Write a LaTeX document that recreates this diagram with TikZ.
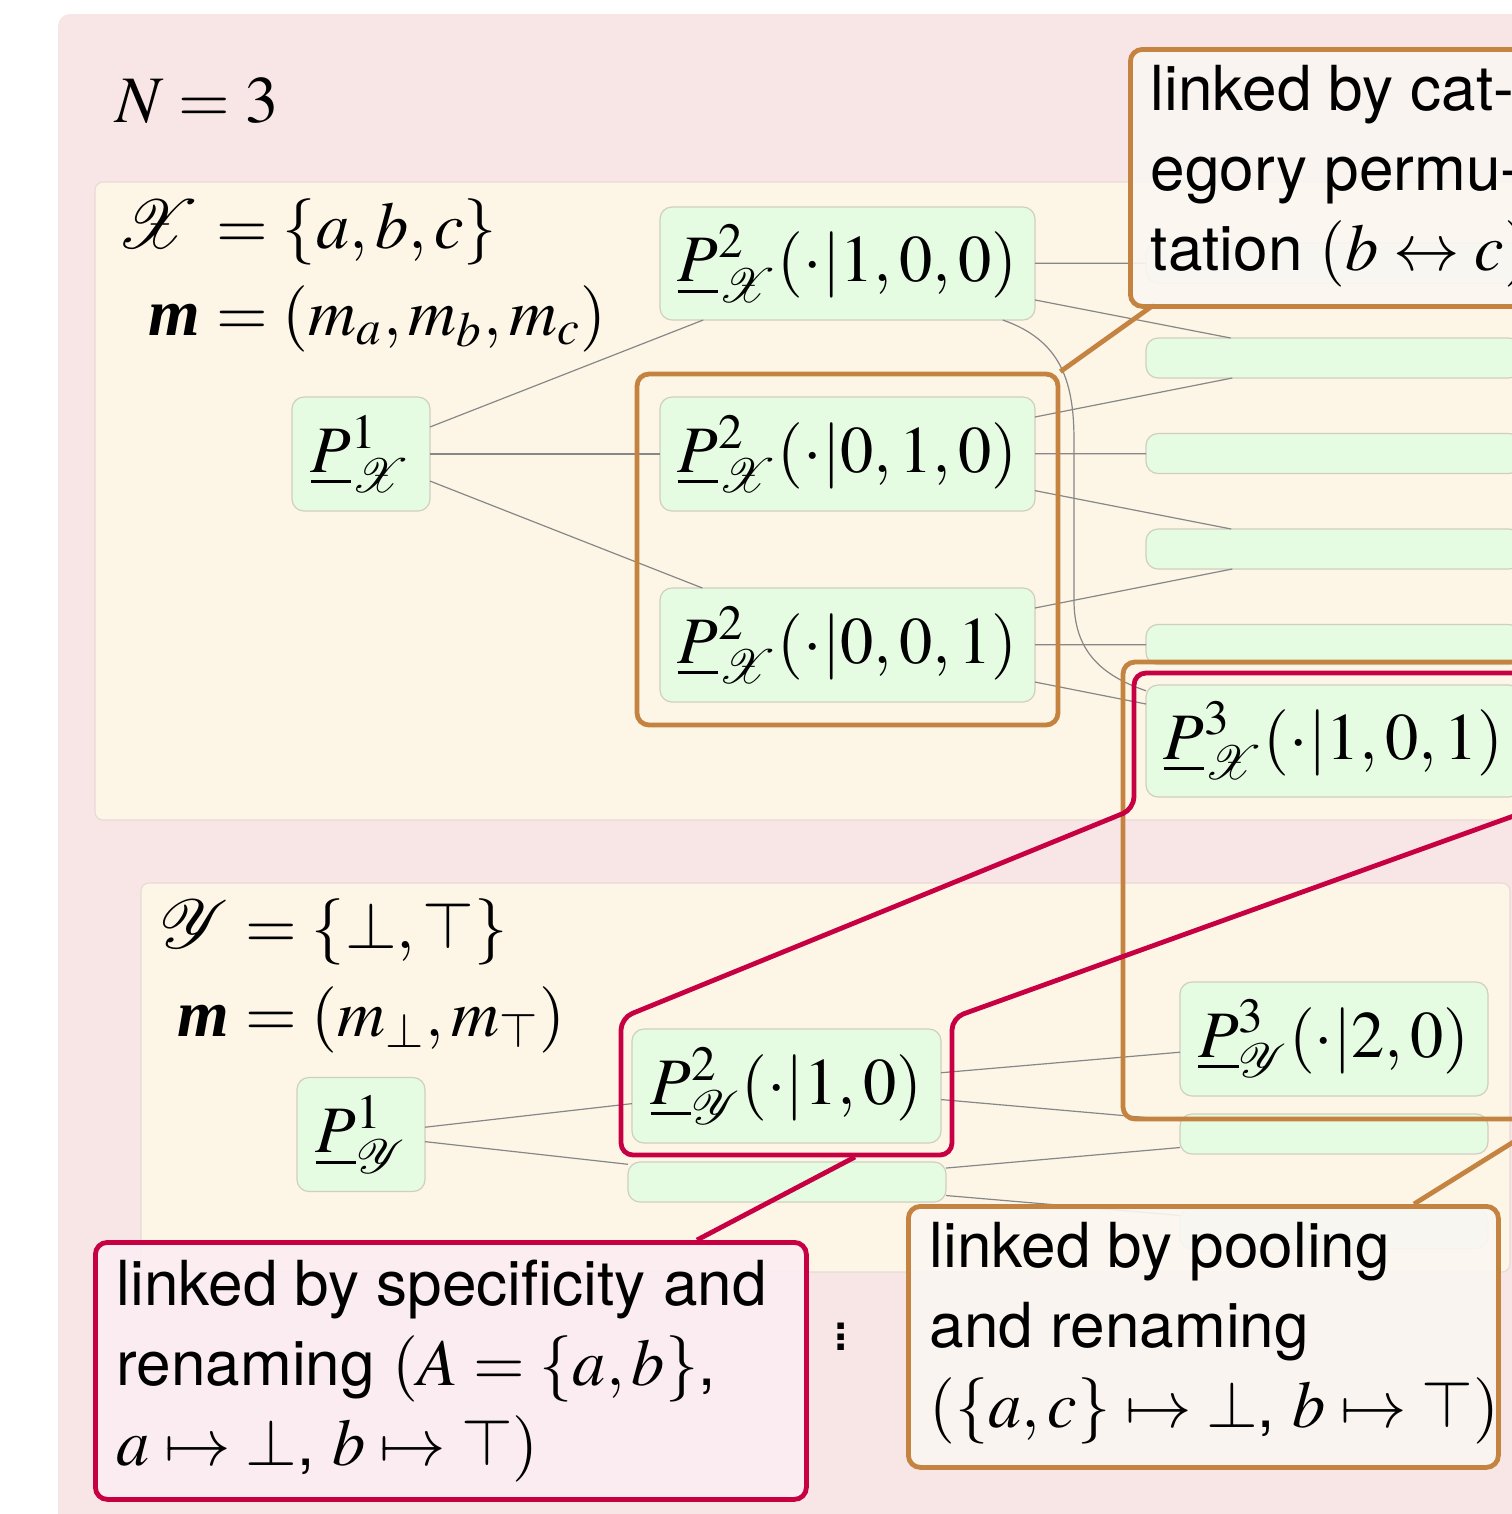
\documentclass[tikz,border=0pt]{standalone}
\usepackage{mathptmx}
\usepackage{mathrsfs}
\usepackage[no-math]{fontspec}
\setsansfont{TeX Gyre Heros}[Scale=0.935]
\newfontfamily\tmsfam{Liberation Serif}
\usetikzlibrary{fit,calc}
\definecolor{bgpink}{RGB}{248,230,230}
\definecolor{boxbeige}{RGB}{253,246,230}
\definecolor{boxline}{RGB}{232,218,214}
\definecolor{nodegreen}{RGB}{229,252,227}
\definecolor{nodeline}{RGB}{208,206,192}
\definecolor{grporange}{RGB}{196,131,64}
\definecolor{grpred}{RGB}{198,0,66}
\definecolor{edgegray}{RGB}{135,135,135}
\newcommand{\mybm}{\mbox{\tmsfam\bfseries\itshape m}}
\newcommand{\Pu}{\underline{P}}
\begin{document}
\begin{tikzpicture}[x=0.25pt, y=-0.25pt, font=\fontsize{16.6}{20}\selectfont,
  pn/.style={draw=nodeline, fill=nodegreen, line width=0.3pt, rounded corners=3pt, inner sep=0pt, outer sep=0pt},
  edge/.style={draw=edgegray, line width=0.3pt},
  ogrp/.style={draw=grporange, line width=1.2pt, rounded corners=3pt, inner sep=5.75pt},
  rgrp/.style={draw=grpred, line width=1.2pt, rounded corners=3pt},
  opt/.style={draw=grporange, line width=1.2pt},
  rpt/.style={draw=grpred, line width=1.2pt},
  ocall/.style={draw=grporange, fill=grporange!7!white, fill opacity=0.9, line width=1.2pt, rounded corners=3pt, inner sep=0pt, anchor=north west},
  rcall/.style={draw=grpred, fill=grpred!7!white, fill opacity=0.9, line width=1.2pt, rounded corners=3pt, inner sep=0pt, anchor=north west},
  ctext/.style={anchor=base west, align=left, inner sep=0pt, font=\sffamily\fontsize{16.6}{20}\selectfont},
  lab/.style={inner sep=0pt},
  bbox/.style={fill=boxbeige, draw=boxline, line width=0.3pt, rounded corners=2pt}
]
\useasboundingbox (0,0) rectangle (1512,1514);
\clip (0,0) rectangle (1512,1514);

% backgrounds
\fill[bgpink, rounded corners=3pt] (58,14) rectangle (1700,1700);
\path[bbox] (95,182) rectangle (1700,820);
\path[bbox] (141,883) rectangle (1510,1272);

% labels
\node[lab, anchor=base west] (Nlab) at (115,122) {$N=3$};
\node[lab, anchor=base east] (xl1) at (201,248) {$\mathscr{X}$};
\node[lab, anchor=base west] (xr1) at (201,248) {${}=\{a,b,c\}$};
\node[lab, anchor=base east] (xl2) at (201,335) {$\mybm$};
\node[lab, anchor=base west] (xr2) at (201,335) {${}=(m_a,m_b,m_c)$};
\node[lab, anchor=base east] (yl1) at (230,948) {$\mathscr{Y}$};
\node[lab, anchor=base west] (yr1) at (230,948) {${}=\{\bot,\top\}$};
\node[lab, anchor=base east] (yl2) at (230,1036) {$\mybm$};
\node[lab, anchor=base west] (yr2) at (230,1036) {${}=(m_\bot,m_\top)$};

% X nodes
\node[pn, minimum width=34.5pt, minimum height=28.5pt] (P1X) at (361,454) {$\Pu^{1}_{\mathscr{X}}$};
\node[pn, minimum width=93.75pt, minimum height=28.25pt] (P2X100) at (847.5,263.5) {$\Pu^{2}_{\mathscr{X}}(\cdot|1,0,0)$};
\node[pn, minimum width=93.75pt, minimum height=28.5pt] (P2X010) at (847.5,454) {$\Pu^{2}_{\mathscr{X}}(\cdot|0,1,0)$};
\node[pn, minimum width=93.75pt, minimum height=28.5pt] (P2X001) at (847.5,645) {$\Pu^{2}_{\mathscr{X}}(\cdot|0,0,1)$};
\node[pn, minimum width=93.75pt, minimum height=10pt] (L200) at (1333.5,263) {};
\node[pn, minimum width=93.75pt, minimum height=10pt] (L110) at (1333.5,358) {};
\node[pn, minimum width=93.75pt, minimum height=10pt] (L020) at (1333.5,453.5) {};
\node[pn, minimum width=93.75pt, minimum height=10pt] (L011) at (1333.5,549) {};
\node[pn, minimum width=93.75pt, minimum height=10pt] (L002) at (1333.5,644.5) {};
\node[pn, minimum width=93.75pt, minimum height=28pt] (P3X101) at (1333.5,741) {$\Pu^{3}_{\mathscr{X}}(\cdot|1,0,1)$};

% Y nodes
\node[pn, minimum width=32pt, minimum height=28.5pt] (P1Y) at (361,1134.5) {$\Pu^{1}_{\mathscr{Y}}$};
\node[pn, minimum width=77.25pt, minimum height=28.5pt] (P2Y10) at (786.5,1086) {$\Pu^{2}_{\mathscr{Y}}(\cdot|1,0)$};
\node[pn, minimum width=79.5pt, minimum height=10pt] (P2Y01) at (787,1182) {};
\node[pn, minimum width=77pt, minimum height=28.5pt] (P3Y20) at (1334,1039) {$\Pu^{3}_{\mathscr{Y}}(\cdot|2,0)$};
\node[pn, minimum width=77pt, minimum height=10pt] (P3Y11) at (1334,1134) {};
\node[pn, minimum width=77pt, minimum height=10pt] (P3Y02) at (1334,1228.5) {};

% edges X
\draw[edge] (P1X) -- (P2X100);
\draw[edge] (P1X) -- (P2X010);
\draw[edge] (P1X) -- (P2X001);
\draw[edge] (P2X100) -- (L200);
\draw[edge] (P2X100) -- (L110);
\draw[edge] (P2X100.-20) .. controls (1060,340) and (1074,380) .. (1074,440) -- (1074,600) .. controls (1074,650) and (1100,675) .. (P3X101.165);
\draw[edge] (P2X010) -- (L110);
\draw[edge] (P2X010) -- (L020);
\draw[edge] (P2X010) -- (L011);
\draw[edge] (P2X001) -- (L011);
\draw[edge] (P2X001) -- (L002);
\draw[edge] (P2X001) -- (P3X101);
% edges Y
\draw[edge] (P1Y) -- (P2Y10);
\draw[edge] (P1Y) -- (P2Y01);
\draw[edge] (P2Y10) -- (P3Y20);
\draw[edge] (P2Y10) -- (P3Y11);
\draw[edge] (P2Y01) -- (P3Y11);
\draw[edge] (P2Y01) -- (P3Y02);

% groups
\node[ogrp, fit=(P2X010)(P2X001)] (G1) {};
\node[ogrp, fit=(P3X101)(P3Y20)] (G2) {};
\draw[rgrp] (621,1155) -- (621,1018) -- (1134,809) -- (1134,673) -- (1533,673) -- (1533,809) -- (952,1018) -- (952,1155) -- cycle;

% dots
\node[lab, font=\sffamily\fontsize{16.6}{20}\selectfont] (vd) at (841,1337) {\vbox{\baselineskip=2.65pt\lineskiplimit=-10pt\hbox{.}\hbox{.}\hbox{.}}};

% pointers
\coordinate (c1foot) at (1155,304);
\coordinate (rhfoot) at (855,1157);
\coordinate (c3foot) at (697,1240);
\coordinate (c2foot) at (1414,1204);
\draw[opt] (G1.north east) -- (c1foot);
\draw[rpt] (rhfoot) -- (c3foot);
\draw[opt] (G2.south east) -- (c2foot);

% callouts (text anchored at the baseline of its last line)
\node[ocall, minimum width=103pt, minimum height=64.25pt] (C1) at (1128,47) {};
\node[ctext] (C1t) at (1150,270) {linked by cat-\\egory permu-\\tation $(b\leftrightarrow c)$};
\node[rcall, minimum width=177.75pt, minimum height=64.25pt] (C3) at (93,1240) {};
\node[ctext] (C3t) at (116,1465) {linked by specificity and\\renaming $(A=\{a,b\}$,\\$a\mapsto\bot$, $b\mapsto\top)$};
\node[ocall, minimum width=147.5pt, minimum height=65.25pt] (C2) at (906,1204) {};
\node[ctext] (C2t) at (929,1427) {linked by pooling\\and renaming\\$(\{a,c\}\mapsto\bot$, $b\mapsto\top)$};
\end{tikzpicture}
\end{document}
